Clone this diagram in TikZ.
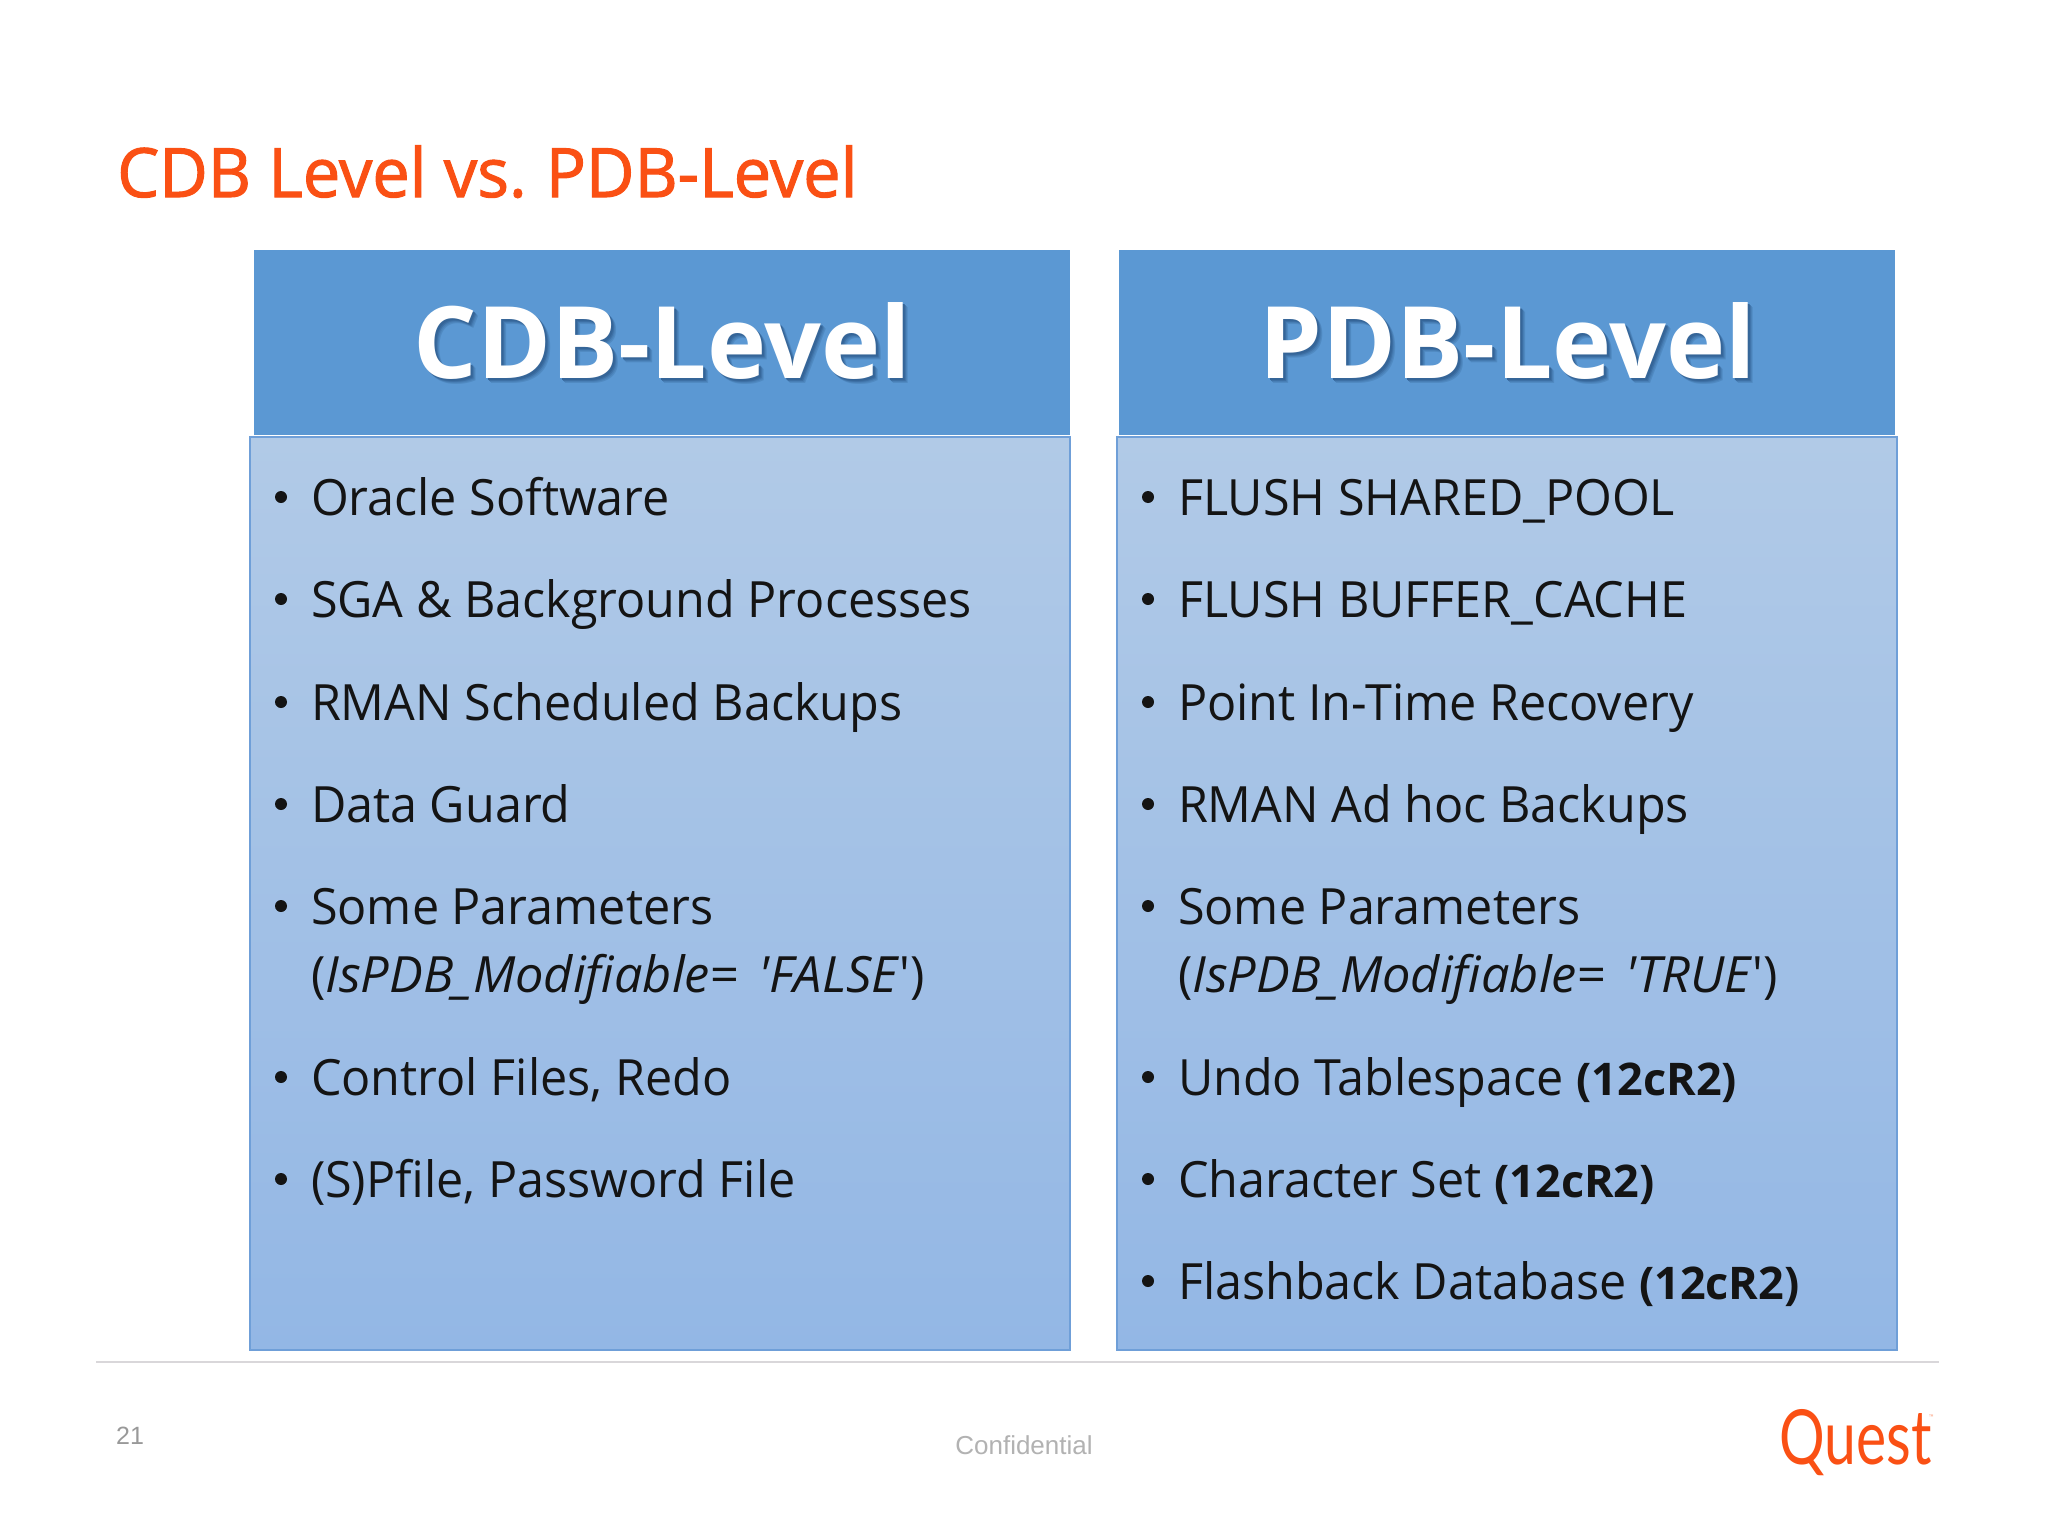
\documentclass[tikz,border=0pt]{standalone}
\usepackage{fontspec}
\setmainfont[UprightFeatures={FakeStretch=.97},ItalicFeatures={FakeStretch=1.01},BoldFeatures={FakeStretch=1.0}]{Open Sans}
\newfontfamily\titlefont[FakeStretch=.98,FakeBold=1.6]{Open Sans}
\newfontfamily\logofont[FakeStretch=.75]{Lato}
\newfontfamily\footfont{Liberation Sans}
\definecolor{questorange}{HTML}{FA5014}
\definecolor{headblue}{HTML}{5B98D3}
\definecolor{edgeblue}{HTML}{6F9FD8}
\definecolor{bodytop}{HTML}{B1CAE7}
\definecolor{bodybot}{HTML}{93B7E5}
\definecolor{ruleGrey}{HTML}{D9D7DA}
\definecolor{shadowblue}{HTML}{24507F}
\newcommand{\bodysize}{\fontsize{50}{60}\selectfont}
\newcommand{\boldtag}{\textbf{\fontsize{45}{50}\selectfont (12cR2)}}
\newcommand{\headsize}{\fontsize{100}{110}\selectfont\bfseries}
% one shadow layer: colour mix, offset in pt
\newcommand{\shadowlayer}[3]{\makebox[0pt][l]{\kern#2pt\raisebox{-#2pt}{\textcolor{shadowblue!#1!headblue}{#3}}}}
\newcommand{\shadowed}[1]{\shadowlayer{20}{5}{#1}\shadowlayer{35}{4}{#1}\shadowlayer{55}{3}{#1}\shadowlayer{70}{2}{#1}#1}
\tikzset{
  x=1pt,y=-1pt,
  bodybox/.style={draw=edgeblue,line width=1.5pt,top color=bodytop,bottom color=bodybot},
  headbox/.style={fill=headblue,draw=none},
  item/.style={anchor=base west,inner sep=0pt,outer sep=0pt,font=\bodysize,text=black!92},
  bullet/.style={circle,fill=black!92,inner sep=0pt,minimum size=12pt},
  headtext/.style={anchor=base,inner sep=0pt,font=\headsize,text=white},
}
\begin{document}
\begin{tikzpicture}
\useasboundingbox (0,0) rectangle (2048,1536);
\fill[white] (0,0) rectangle (2048,1536);
\node[anchor=base west,inner sep=0pt,text=questorange,font=\titlefont\fontsize{68}{80}\selectfont] (title) at (117,197) {CDB Level vs.\kern-4pt{} PDB-Level};
% boxes
\path[headbox] (254,250) rectangle (1070,435);
\path[headbox] (1119,250) rectangle (1895,435);
\path[bodybox] (250,437) rectangle (1070,1350);
\path[bodybox] (1117,437) rectangle (1897,1350);
% headers
\node[headtext] (cdb) at (662,378) {\shadowed{CDB-Level}};
\node[headtext] (pdb) at (1508,378) {\shadowed{PDB-Level}};
% left column
\foreach \n/\y/\t in {a/515/Oracle Software,b/617/SGA \& Background Processes,c/720/RMAN Scheduled Backups,d/822/Data Guard,e/924/Some Parameters,g/1095/{Control Files, Redo},h/1197/{(S)Pfile, Password File}}{
  \node[bullet] (lb\n) at (281,\y-18) {};
  \node[item] (l\n) at (311,\y) {\t};
}
\node[item] (lf) at (311,992) {(\textit{IsPDB\_Modifiable=\kern20pt\textquotesingle FALSE}\textquotesingle)};
% right column
\foreach \n/\y/\t in {a/515/FLUSH SHARED\_POOL,b/617/FLUSH BUFFER\_CACHE,c/720/Point In-Time Recovery,d/822/RMAN Ad hoc Backups,e/924/Some Parameters,g/1095/{Undo Tablespace \boldtag},h/1197/{Character Set \boldtag},i/1299/{Flashback Database \boldtag}}{
  \node[bullet] (rb\n) at (1148,\y-18) {};
  \node[item] (r\n) at (1178,\y) {\t};
}
\node[item] (rf) at (1178,992) {(\textit{IsPDB\_Modifiable=\kern20pt\textquotesingle TRUE}\textquotesingle)};
% footer
\draw[ruleGrey,line width=2.5pt] (96,1362) -- (1939,1362);
\node[anchor=base west,inner sep=0pt,text=black!40,font=\footfont\fontsize{25}{30}\selectfont] (num) at (116,1444) {21};
\node[anchor=base,inner sep=0pt,text=black!30,font=\footfont\fontsize{26}{30}\selectfont] (conf) at (1024,1454) {Confidential};
\node[anchor=base west,inner sep=0pt,text=questorange,font=\logofont\fontsize{76}{80}\selectfont] (quest) at (1779,1464) {Quest};
\node[anchor=base west,inner sep=0pt,text=questorange!50,font=\logofont\fontsize{8}{9}\selectfont] (tm) at (1929,1420) {™};
\end{tikzpicture}
\end{document}
